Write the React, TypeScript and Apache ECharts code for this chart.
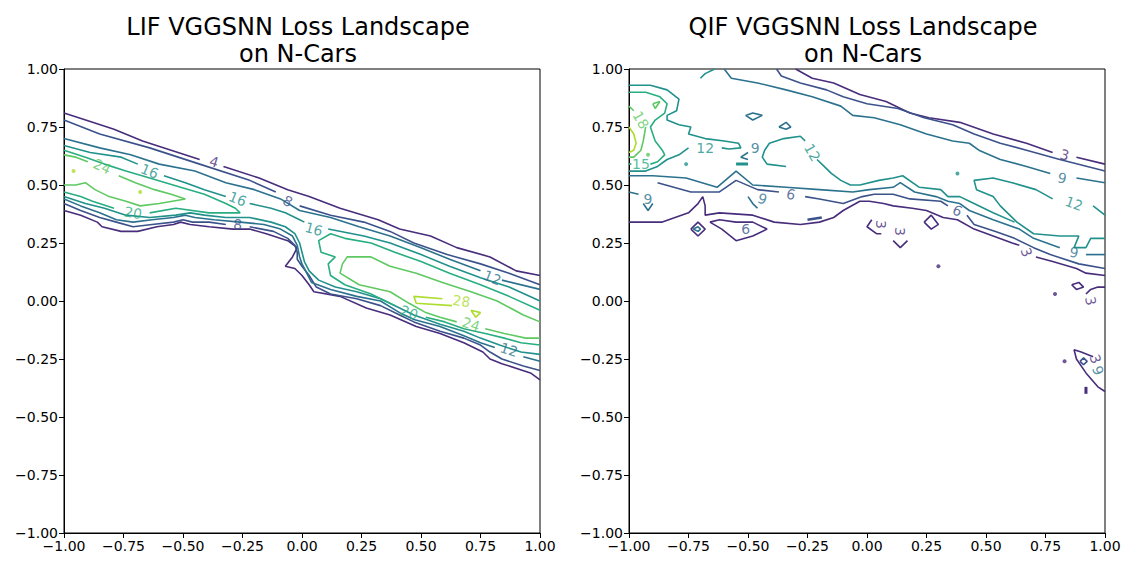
import React, { useEffect, useRef } from "react";
import * as echarts from "echarts";

type Pt = [number, number] | null;

const LIF_LEVELS = [4, 8, 12, 16, 20, 24, 28];
const QIF_LEVELS = [3, 6, 9, 12, 15, 18, 21];
const VIRIDIS = ["#472d7b", "#3b528b", "#2c728e", "#21918c", "#28ae80", "#5ec962", "#addc30"];
const TITLE_LIF = "LIF VGGSNN Loss Landscape\non N-Cars";
const TITLE_QIF = "QIF VGGSNN Loss Landscape\non N-Cars";

// ---------------- LIF contour lines (null = gap for inline label) ----------------
const lif4Upper: Pt[] = [[-1.00,0.81],[-0.88,0.77],[-0.79,0.74],[-0.67,0.69],[-0.55,0.65],[-0.43,0.61],null,[-0.33,0.58],[-0.18,0.53],[-0.06,0.48],[0.03,0.45],[0.16,0.40],[0.32,0.35],[0.41,0.31],[0.54,0.28],[0.65,0.23],[0.79,0.19],[0.90,0.13],[1.00,0.11]];
const lif4Lower: Pt[] = [[-1.00,0.39],[-0.93,0.37],[-0.86,0.34],[-0.84,0.32],[-0.76,0.30],[-0.69,0.30],[-0.61,0.32],[-0.54,0.33],[-0.51,0.34],[-0.47,0.33],[-0.39,0.32],[-0.29,0.31],[-0.22,0.31],[-0.15,0.29],[-0.06,0.26],[-0.02,0.23],[-0.04,0.19],[-0.07,0.15],[-0.03,0.14],[0.00,0.11],[0.03,0.07],[0.05,0.04],[0.16,0.02],[0.27,-0.03],[0.37,-0.06],[0.48,-0.11],[0.58,-0.14],[0.68,-0.18],[0.76,-0.22],[0.79,-0.25],[0.84,-0.27],[0.96,-0.31],[1.00,-0.34]];
const lif8Upper: Pt[] = [[-1.00,0.78],[-0.85,0.72],[-0.64,0.66],[-0.43,0.59],[-0.22,0.52],[-0.11,0.47],null,[-0.01,0.41],[0.12,0.37],[0.26,0.34],[0.37,0.30],[0.47,0.25],[0.61,0.20],[0.75,0.16],[0.87,0.12],[1.00,0.07]];
const lif8Lower: Pt[] = [[-1.00,0.42],[-0.93,0.39],[-0.85,0.36],[-0.78,0.34],[-0.71,0.32],[-0.63,0.33],[-0.54,0.34],[-0.50,0.35],[-0.46,0.34],[-0.39,0.34],[-0.32,0.33],null,[-0.22,0.32],[-0.12,0.30],[-0.06,0.27],[-0.03,0.24],[-0.02,0.21],[-0.02,0.18],[0.00,0.15],[0.03,0.11],[0.06,0.06],[0.12,0.03],[0.23,0.01],[0.33,-0.02],[0.41,-0.06],[0.47,-0.09],[0.58,-0.13],[0.68,-0.16],[0.75,-0.19],[0.79,-0.22],[0.84,-0.25],[0.93,-0.28],[1.00,-0.30]];
const lif12Upper: Pt[] = [[-1.00,0.70],[-0.85,0.66],[-0.72,0.63],[-0.60,0.59],[-0.45,0.56],[-0.32,0.51],[-0.20,0.48],[-0.09,0.44],[-0.01,0.39],[0.12,0.36],[0.24,0.32],[0.37,0.28],[0.50,0.23],[0.62,0.18],[0.75,0.13],null,[0.84,0.09],[1.00,0.05]];
const lif12Lower: Pt[] = [[-1.00,0.44],[-0.93,0.41],[-0.85,0.38],[-0.78,0.35],[-0.71,0.34],[-0.63,0.35],[-0.54,0.36],[-0.49,0.37],[-0.45,0.36],[-0.37,0.35],[-0.26,0.34],[-0.16,0.33],[-0.09,0.31],[-0.04,0.28],[-0.02,0.24],[-0.01,0.19],[0.00,0.16],[0.02,0.12],[0.04,0.08],[0.12,0.05],[0.23,0.02],[0.33,0.00],[0.41,-0.05],[0.47,-0.08],[0.58,-0.11],[0.68,-0.15],[0.75,-0.18],[0.81,-0.20],null,[0.93,-0.24],[1.00,-0.26]];
const lif16Upper: Pt[] = [[-1.00,0.67],[-0.89,0.64],[-0.76,0.62],[-0.69,0.59],null,[-0.58,0.54],[-0.49,0.51],[-0.41,0.48],[-0.32,0.45],null,[-0.22,0.42],[-0.13,0.40],[-0.07,0.38],[-0.01,0.35],[0.01,0.34],null,[0.11,0.31],[0.26,0.28],[0.37,0.25],[0.50,0.20],[0.62,0.15],[0.75,0.10],[0.87,0.06],[1.00,0.00]];
const lif16Lower: Pt[] = [[-1.00,0.45],[-0.91,0.42],[-0.83,0.40],[-0.74,0.37],[-0.64,0.36],[-0.53,0.37],[-0.47,0.38],[-0.41,0.37],[-0.32,0.36],[-0.22,0.36],[-0.13,0.34],[-0.07,0.32],[-0.03,0.29],[-0.01,0.25],[0.00,0.21],[0.01,0.17],[0.03,0.13],[0.07,0.09],[0.14,0.06],[0.23,0.04],[0.33,0.01],[0.41,-0.03],[0.47,-0.06],[0.58,-0.10],[0.68,-0.13],[0.75,-0.16],[0.83,-0.19],[0.92,-0.22],[1.00,-0.23]];
const lif20Left: Pt[] = [[-1.00,0.65],[-0.91,0.62],[-0.83,0.59],[-0.74,0.56],[-0.64,0.53],[-0.51,0.49],[-0.41,0.46],[-0.32,0.42],[-0.28,0.40],[-0.26,0.38],[-0.39,0.38],[-0.53,0.40],[-0.64,0.38],null,[-0.79,0.40],[-0.88,0.43],[-0.93,0.45],[-1.00,0.47]];
const lif24Left: Pt[] = [[-1.00,0.63],[-0.95,0.62],[-0.90,0.60],null,[-0.77,0.54],[-0.70,0.51],[-0.62,0.48],[-0.55,0.46],[-0.49,0.44],[-0.60,0.42],[-0.68,0.41],[-0.74,0.43],[-0.81,0.45],[-0.87,0.48],[-0.91,0.51],[-0.95,0.50],[-1.00,0.50]];
const lif20Right: Pt[] = [[1.00,-0.04],[0.87,0.02],[0.75,0.07],[0.62,0.12],[0.50,0.17],[0.39,0.21],[0.29,0.25],[0.18,0.27],[0.12,0.29],[0.07,0.26],[0.08,0.21],[0.14,0.19],[0.11,0.16],[0.12,0.11],[0.18,0.07],[0.29,0.03],[0.39,-0.02],null,[0.52,-0.07],[0.60,-0.09],[0.68,-0.12],[0.77,-0.14],[0.85,-0.16],[0.92,-0.18],[1.00,-0.19]];
const lif24Right: Pt[] = [[1.00,-0.09],[0.93,-0.06],[0.82,0.00],[0.71,0.04],[0.59,0.08],[0.48,0.12],[0.37,0.15],[0.29,0.19],[0.19,0.19],[0.17,0.16],[0.16,0.12],[0.24,0.07],[0.37,0.04],[0.45,-0.01],[0.52,-0.05],[0.58,-0.07],[0.65,-0.09],null,[0.77,-0.12],[0.85,-0.14],[0.94,-0.16],[1.00,-0.16]];
const lif28Wedge: Pt[] = [[0.59,0.01],[0.47,0.02],[0.48,-0.01],[0.63,-0.02]];
const lif28Tri: Pt[] = [[0.71,-0.04],[0.75,-0.05],[0.73,-0.07],[0.71,-0.04]];

// [x, y, level, rotation]
const LIF_LABELS: [number, number, number, number][] = [
  [-0.37,0.60,4,-18],[-0.64,0.56,16,-22],[-0.84,0.58,24,-25],[-0.27,0.44,16,-22],
  [-0.06,0.43,8,-28],[-0.71,0.38,20,-10],[-0.27,0.33,8,-3],[0.05,0.31,16,-15],
  [0.80,0.10,12,-22],[0.67,0.00,28,-8],[0.45,-0.05,20,-20],[0.71,-0.10,24,-18],[0.87,-0.21,12,-18],
];
const LIF_DOTS: [number, number, number][] = [[-0.96,0.56,28],[-0.68,0.47,28]];

// ---------------- QIF contour lines ----------------
const qif3Top: Pt[] = [[-0.30,1.00],[-0.23,0.96],[-0.14,0.94],[-0.03,0.89],[0.08,0.86],[0.18,0.81],[0.26,0.79],[0.39,0.77],[0.53,0.72],[0.67,0.68],[0.78,0.64],null,[0.88,0.62],[1.00,0.59]];
const qif6Top: Pt[] = [[-0.38,1.00],[-0.36,0.97],[-0.28,0.94],[-0.17,0.91],[-0.10,0.88],[0.00,0.85],[0.13,0.83],[0.24,0.79],[0.36,0.76],[0.45,0.72],[0.56,0.68],[0.67,0.65],[0.81,0.61],[1.00,0.56]];
const qif9Top: Pt[] = [[-0.60,1.00],[-0.57,0.96],[-0.46,0.94],[-0.34,0.91],[-0.23,0.88],[-0.11,0.84],[-0.06,0.80],[0.03,0.79],[0.14,0.76],[0.25,0.72],[0.36,0.69],[0.43,0.68],[0.47,0.65],[0.56,0.61],[0.67,0.58],[0.77,0.55],null,[0.88,0.53],[1.00,0.51]];
const qif12Hook: Pt[] = [[-0.70,0.96],[-0.68,0.98],[-0.64,1.00]];
const qif12Right: Pt[] = [[1.00,0.37],[0.95,0.41],null,[0.78,0.44],[0.71,0.48],[0.61,0.51],[0.53,0.53],[0.45,0.52],[0.46,0.48],[0.53,0.45],[0.56,0.41],[0.63,0.34],[0.70,0.29],[0.81,0.28],[0.89,0.28],[0.87,0.23],[0.92,0.23],[0.94,0.27],[1.00,0.27]];
const qif12Left: Pt[] = [[-1.00,0.93],[-0.91,0.93],[-0.84,0.91],[-0.79,0.87],[-0.80,0.82],[-0.84,0.80],[-0.84,0.78],[-0.79,0.76],[-0.74,0.75],[-0.75,0.72],[-0.68,0.70],[-0.60,0.69],[-0.54,0.68],[-0.53,0.66],[-0.58,0.655],[-0.61,0.66],null,[-0.75,0.66],[-0.79,0.63],[-0.84,0.61],[-0.88,0.58],[-0.93,0.56],[-1.00,0.56]];
const qif15: Pt[] = [[-1.00,0.90],[-0.93,0.90],[-0.87,0.88],[-0.84,0.85],[-0.85,0.81],[-0.89,0.78],[-0.91,0.75],[-0.89,0.69],[-0.86,0.65],[-0.85,0.63],[-0.88,0.60],[-0.91,0.59],null,[-0.99,0.59],[-1.00,0.59]];
const qif18: Pt[] = [[-1.00,0.84],[-0.98,0.82],null,[-0.93,0.75],[-0.94,0.69],[-0.95,0.65],[-0.98,0.62],[-1.00,0.62]];
const qif18Tri: Pt[] = [[-0.90,0.85],[-0.87,0.86],[-0.89,0.83],[-0.90,0.85]];
const qif21: Pt[] = [[-1.00,0.75],[-0.98,0.72],[-0.97,0.68],[-0.98,0.65],[-1.00,0.64]];
const qif9Diamond1: Pt[] = [[-0.51,0.80],[-0.48,0.81],[-0.44,0.80],[-0.48,0.78],[-0.51,0.80]];
const qif9Diamond2: Pt[] = [[-0.37,0.75],[-0.34,0.77],[-0.32,0.75],[-0.34,0.74],[-0.37,0.75]];
const qif9Bracket: Pt[] = [[-0.50,0.64],[-0.53,0.62],[-0.50,0.61]];
const qif12Dash: Pt[] = [[-0.55,0.59],[-0.50,0.59]];
const qif12Mid: Pt[] = [[-0.34,0.58],[-0.42,0.59],[-0.44,0.62],[-0.43,0.65],[-0.41,0.68],[-0.35,0.70],[-0.28,0.71],[-0.26,0.69],null,[-0.21,0.61],[-0.18,0.58],[-0.15,0.55],[-0.11,0.52],[-0.07,0.50],[-0.03,0.50],[0.05,0.52],[0.11,0.53],[0.15,0.54],[0.22,0.49],[0.31,0.48],[0.34,0.45],[0.39,0.45],[0.43,0.43],[0.53,0.38],[0.62,0.34]];
const qif9Mid: Pt[] = [[-1.00,0.54],[-0.90,0.54],[-0.76,0.53],[-0.63,0.49],[-0.55,0.56],[-0.48,0.50],[-0.34,0.49],[-0.20,0.48],[-0.06,0.47],[0.01,0.48],[0.11,0.49],[0.14,0.51],[0.20,0.47],[0.29,0.45],[0.34,0.43],[0.39,0.42],[0.43,0.39],[0.53,0.35],[0.64,0.31],[0.70,0.27],[0.81,0.23],null,[0.92,0.20],[1.00,0.20]];
const qif9Edge: Pt[] = [[-1.00,0.47],[-0.96,0.46]];
const qif9Vee: Pt[] = [[-0.94,0.42],[-0.92,0.39],[-0.90,0.42]];
const qif6Mid: Pt[] = [[-0.88,0.51],[-0.74,0.47],[-0.62,0.47],[-0.55,0.52],[-0.46,0.48],[-0.37,0.47],null,[-0.26,0.45],[-0.20,0.44],[-0.10,0.42],[-0.02,0.45],[0.03,0.46],[0.11,0.46],[0.18,0.44],[0.31,0.43],[0.34,0.41],null,[0.42,0.37],[0.45,0.33],[0.54,0.30],[0.62,0.27],[0.70,0.23],[0.77,0.20],[0.89,0.16],[1.00,0.14]];
const qif3Mid: Pt[] = [[-1.00,0.34],[-0.86,0.34],[-0.75,0.38],[-0.71,0.42],[-0.69,0.45],[-0.68,0.41],[-0.68,0.37],[-0.62,0.38],[-0.48,0.37],[-0.39,0.34],[-0.28,0.33],[-0.20,0.34],[-0.14,0.36],[-0.10,0.39],[-0.03,0.43],[0.01,0.43],[0.07,0.42],[0.11,0.41],[0.19,0.40],[0.25,0.39],[0.32,0.36],[0.38,0.35],[0.45,0.31],[0.53,0.28],[0.61,0.25],[0.64,0.24],null,[0.71,0.19],[0.78,0.17],[0.88,0.14],[0.92,0.12],[1.00,0.11]];
const qif3Diamond: Pt[] = [[-0.74,0.31],[-0.71,0.34],[-0.68,0.31],[-0.71,0.28],[-0.74,0.31]];
const qif9Inner: Pt[] = [[-0.73,0.31],[-0.71,0.32],[-0.70,0.31],[-0.71,0.30],[-0.73,0.31]];
const qif3Loop: Pt[] = [[-0.66,0.34],[-0.61,0.31],[-0.55,0.26],[-0.48,0.28],[-0.42,0.31],[-0.48,0.34],[-0.55,0.34],[-0.62,0.35],[-0.66,0.34]];
const qif9Hook: Pt[] = [[-0.50,0.45],[-0.48,0.42],[-0.46,0.40]];
const qif6Dash: Pt[] = [[-0.25,0.35],[-0.19,0.36]];
const qif3Diamond2: Pt[] = [[0.24,0.34],[0.27,0.37],[0.30,0.33],[0.27,0.31],[0.24,0.34]];
const qif3Bracket: Pt[] = [[0.02,0.35],[0.00,0.32],[0.04,0.29],[0.06,0.29]];
const qif3Vee: Pt[] = [[0.11,0.26],[0.14,0.23],[0.17,0.26]];
const qif3LoopRight: Pt[] = [[0.86,0.07],[0.89,0.08],[0.91,0.06],[0.88,0.05],[0.86,0.07]];
const qif3Arc: Pt[] = [[0.92,0.03],[0.94,0.05],[0.97,0.06],[1.00,0.06]];
const qif3Wedge: Pt[] = [[0.95,-0.24],[0.90,-0.22],[0.87,-0.21],[0.88,-0.25],[0.92,-0.31],[0.97,-0.37],[1.00,-0.39]];
const qif6DiamondLow: Pt[] = [[0.895,-0.26],[0.91,-0.245],[0.925,-0.26],[0.91,-0.275],[0.895,-0.26]];
const qif3Tick: Pt[] = [[0.92,-0.37],[0.92,-0.40]];

const QIF_LABELS: [number, number, number, number][] = [
  [0.83,0.63,3,-15],[0.82,0.53,9,-12],[0.87,0.42,12,-20],[-0.68,0.66,12,0],[-0.47,0.66,9,0],
  [-0.23,0.64,12,-60],[-0.95,0.78,18,-60],[-0.95,0.59,15,0],[-0.92,0.44,9,0],[-0.44,0.44,9,-20],
  [-0.32,0.46,6,-12],[-0.51,0.31,6,0],[0.38,0.39,6,-25],[0.06,0.33,3,-90],[0.14,0.30,3,-90],
  [0.67,0.21,3,-70],[0.87,0.21,9,-10],[0.94,0.00,3,-80],[0.96,-0.25,3,-70],[0.97,-0.30,9,-70],
];
const QIF_DOTS: [number, number, number][] = [[-0.92,0.63,18],[-0.76,0.59,12],[0.38,0.55,12],[0.30,0.15,3],[0.79,0.03,3],[0.83,-0.26,3]];

type Line = { level: number; pts: Pt[]; width?: number };

const LIF_LINES: Line[] = [
  { level: 4, pts: lif4Upper }, { level: 4, pts: lif4Lower },
  { level: 8, pts: lif8Upper }, { level: 8, pts: lif8Lower },
  { level: 12, pts: lif12Upper }, { level: 12, pts: lif12Lower },
  { level: 16, pts: lif16Upper }, { level: 16, pts: lif16Lower },
  { level: 20, pts: lif20Left }, { level: 20, pts: lif20Right },
  { level: 24, pts: lif24Left }, { level: 24, pts: lif24Right },
  { level: 28, pts: lif28Wedge }, { level: 28, pts: lif28Tri },
];

const QIF_LINES: Line[] = [
  { level: 3, pts: qif3Top }, { level: 6, pts: qif6Top }, { level: 9, pts: qif9Top },
  { level: 12, pts: qif12Hook }, { level: 12, pts: qif12Right }, { level: 12, pts: qif12Left },
  { level: 15, pts: qif15 }, { level: 18, pts: qif18 }, { level: 18, pts: qif18Tri }, { level: 21, pts: qif21 },
  { level: 9, pts: qif9Diamond1 }, { level: 9, pts: qif9Diamond2 }, { level: 9, pts: qif9Bracket },
  { level: 12, pts: qif12Dash, width: 3 }, { level: 12, pts: qif12Mid }, { level: 9, pts: qif9Mid },
  { level: 9, pts: qif9Edge }, { level: 9, pts: qif9Vee }, { level: 6, pts: qif6Mid }, { level: 3, pts: qif3Mid },
  { level: 3, pts: qif3Diamond }, { level: 9, pts: qif9Inner }, { level: 3, pts: qif3Loop }, { level: 9, pts: qif9Hook },
  { level: 6, pts: qif6Dash, width: 2.5 }, { level: 3, pts: qif3Diamond2 }, { level: 3, pts: qif3Bracket },
  { level: 3, pts: qif3Vee }, { level: 3, pts: qif3LoopRight }, { level: 3, pts: qif3Arc }, { level: 3, pts: qif3Wedge },
  { level: 6, pts: qif6DiamondLow }, { level: 3, pts: qif3Tick, width: 3 },
];

function splitSegments(pts: Pt[]): [number, number][][] {
  const out: [number, number][][] = [];
  let cur: [number, number][] = [];
  for (const p of pts) {
    if (p === null) {
      if (cur.length) out.push(cur);
      cur = [];
    } else cur.push(p);
  }
  if (cur.length) out.push(cur);
  return out;
}

const FONT = "DejaVu Sans";
const fmtTick = (v: number) => (v < 0 ? "\u2212" : "") + Math.abs(v).toFixed(2);

function buildPanel(idx: number, lines: Line[], labels: [number, number, number, number][], dots: [number, number, number][], levels: number[]) {
  const col = (lv: number) => VIRIDIS[levels.indexOf(lv)];
  const series: any[] = [];
  lines.forEach((l) => {
    splitSegments(l.pts).forEach((seg) => {
      series.push({
        type: "line", xAxisIndex: idx, yAxisIndex: idx, data: seg, symbol: "none", showSymbol: false,
        silent: true, clip: true, z: 2,
        lineStyle: { color: col(l.level), width: l.width ?? 1.6 },
      });
    });
  });
  series.push({
    type: "scatter", xAxisIndex: idx, yAxisIndex: idx, symbolSize: 4, silent: true, z: 3,
    data: dots.map(([x, y, lv]) => ({ value: [x, y], itemStyle: { color: col(lv) } })),
  });
  series.push({
    type: "scatter", xAxisIndex: idx, yAxisIndex: idx, symbolSize: 1, silent: true, z: 4,
    itemStyle: { color: "rgba(0,0,0,0)" },
    label: { show: true, position: "inside", fontSize: 14, fontFamily: FONT, formatter: (p: any) => String(p.value[2]) },
    data: labels.map(([x, y, lv, rot]) => ({ value: [x, y, lv], label: { rotate: rot, color: col(lv) } })),
  });
  return series;
}

export default function App() {
  const ref = useRef<HTMLDivElement>(null);
  useEffect(() => {
    if (!ref.current) return;
    const chart = echarts.init(ref.current, undefined, { renderer: "svg" });
    const axisBase = {
      type: "value", min: -1, max: 1, interval: 0.25,
      axisLine: { show: true, onZero: false, lineStyle: { color: "#000", width: 1 } },
      axisTick: { show: true, length: 5, lineStyle: { color: "#000", width: 1 } },
      axisLabel: { color: "#000", fontSize: 14, fontFamily: FONT, margin: 6, formatter: fmtTick },
      splitLine: { show: false },
    };
    chart.setOption({
      animation: false,
      backgroundColor: "#fff",
      grid: [
        { left: 64, top: 69, width: 476, height: 464, show: true, borderColor: "#000", borderWidth: 1, backgroundColor: "transparent" },
        { left: 629, top: 69, width: 476, height: 464, show: true, borderColor: "#000", borderWidth: 1, backgroundColor: "transparent" },
      ],
      xAxis: [0, 1].map((i) => ({ ...axisBase, gridIndex: i })),
      yAxis: [0, 1].map((i) => ({ ...axisBase, gridIndex: i })),
      graphic: [
        { type: "text", x: 298, y: 13, style: { text: TITLE_LIF, textAlign: "center", textVerticalAlign: "top", fontSize: 24, lineHeight: 27, fontFamily: FONT, fill: "#000" } },
        { type: "text", x: 863, y: 13, style: { text: TITLE_QIF, textAlign: "center", textVerticalAlign: "top", fontSize: 24, lineHeight: 27, fontFamily: FONT, fill: "#000" } },
      ],
      series: [
        ...buildPanel(0, LIF_LINES, LIF_LABELS, LIF_DOTS, LIF_LEVELS),
        ...buildPanel(1, QIF_LINES, QIF_LABELS, QIF_DOTS, QIF_LEVELS),
      ],
    });
    return () => chart.dispose();
  }, []);
  return <div ref={ref} style={{ position: "fixed", left: 0, top: 0, width: 1127, height: 572, background: "#fff" }} />;
}
